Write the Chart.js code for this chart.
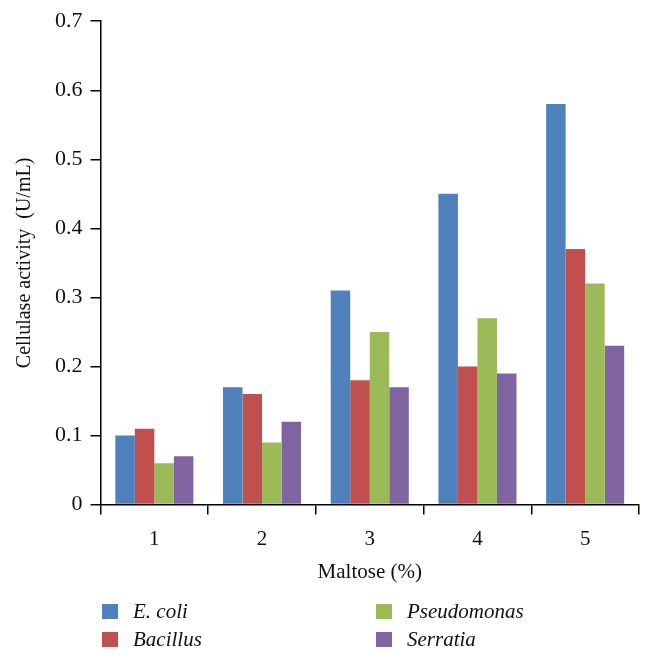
<!DOCTYPE html>
<html>
<head>
<meta charset="utf-8">
<script src="https://cdn.jsdelivr.net/npm/chart.js@4"></script>
<style>
  body { margin: 0; background: #fff; }
  #wrap { position: relative; width: 654px; height: 662px; }
  #legend { position: absolute; left: 0; top: 0; width: 654px; height: 662px; pointer-events: none;
            font-family: "Liberation Serif", serif; font-style: italic; font-size: 21px; color: #111; }
  .item { position: absolute; display: flex; align-items: center; }
  .box { width: 16px; height: 15px; margin-right: 15px; }
</style>
</head>
<body>
<div id="wrap">
  <canvas id="myChart" width="654" height="662"></canvas>
  <div id="legend"></div>
</div>
<script>
// valeurs
const categories = ['1', '2', '3', '4', '5'];
const seriesNames = ['E. coli', 'Bacillus', 'Pseudomonas', 'Serratia'];
const seriesColors = ['#4F81BD', '#C0504D', '#9BBB59', '#8064A2'];
const ecoli = [0.10, 0.17, 0.31, 0.45, 0.58];
const bacillus = [0.11, 0.16, 0.18, 0.20, 0.37];
const pseudomonas = [0.06, 0.09, 0.25, 0.27, 0.32];
const serratia = [0.07, 0.12, 0.17, 0.19, 0.23];
const seriesValues = [ecoli, bacillus, pseudomonas, serratia];

const serif = '"Liberation Serif", serif';

const ctx = document.getElementById('myChart').getContext('2d');
const myChart = new Chart(ctx, {
    type: 'bar',
    data: {
        labels: categories,
        datasets: seriesNames.map((name, i) => ({
            label: name,
            data: seriesValues[i],
            backgroundColor: seriesColors[i],
            borderWidth: 0,
            categoryPercentage: 0.725,
            barPercentage: 1
        }))
    },
    options: {
        responsive: false,
        animation: false,
        layout: { padding: { left: 9, right: 15, top: 14, bottom: 77 } },
        plugins: {
            legend: { display: false },
            tooltip: { enabled: false }
        },
        scales: {
            x: {
                grid: { display: true, drawOnChartArea: false, tickLength: 10, color: '#000', lineWidth: 1.5 },
                border: { display: true, color: '#000', width: 1.5 },
                ticks: { color: '#111', font: { family: serif, size: 21 }, padding: 12 },
                title: { display: true, text: 'Maltose (%)', color: '#111', font: { family: serif, size: 21 }, padding: { top: -4, bottom: 0 } }
            },
            y: {
                min: 0,
                max: 0.7,
                grid: { display: true, drawOnChartArea: false, tickLength: 10, color: '#000', lineWidth: 1.5 },
                border: { display: true, color: '#000', width: 1.5 },
                ticks: {
                    stepSize: 0.1,
                    color: '#111',
                    font: { family: serif, size: 22 },
                    padding: 8,
                    callback: v => (Math.round(v * 10) / 10).toString()
                },
                title: { display: true, text: 'Cellulase activity  (U/mL)', color: '#111', font: { family: serif, size: 20 }, padding: { bottom: 10 } }
            }
        }
    }
});

// légende en HTML, deux colonnes
const legend = document.getElementById('legend');
const legendPos = [[102, 604], [102, 632], [376, 604], [376, 632]];
seriesNames.forEach((name, i) => {
    const item = document.createElement('div');
    item.className = 'item';
    item.style.left = legendPos[i][0] + 'px';
    item.style.top = (legendPos[i][1] - 5) + 'px';
    item.innerHTML = `<span class="box" style="background:${seriesColors[i]}"></span><span>${name}</span>`;
    legend.appendChild(item);
});
</script>
</body>
</html>
